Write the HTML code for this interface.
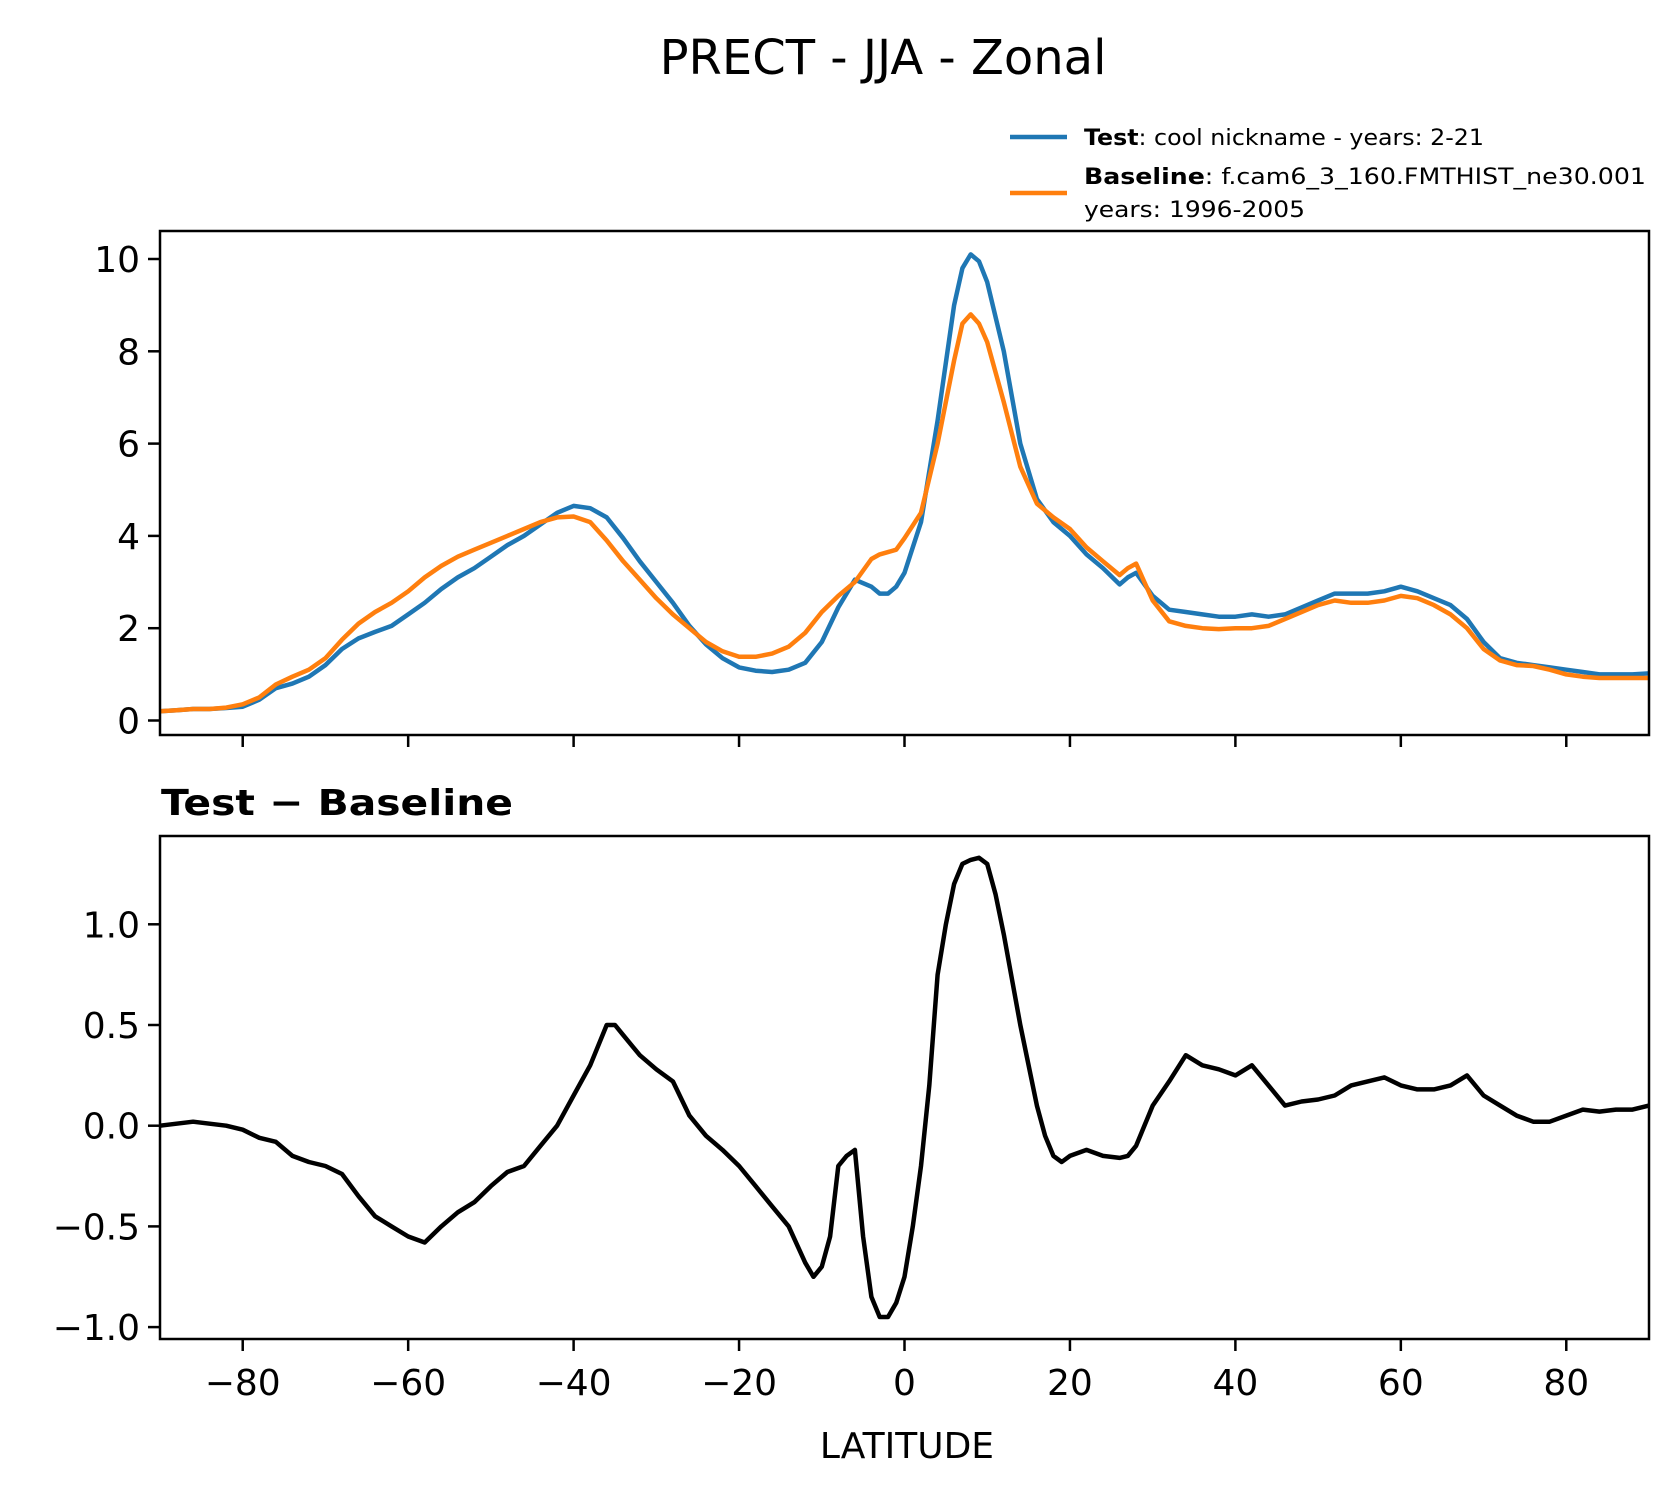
<!DOCTYPE html>
<html><head><meta charset="utf-8"><style>
body{margin:0;background:#fff}
svg{display:block;font-family:"DejaVu Sans","Liberation Sans",sans-serif}
</style></head><body>
<svg id="fig" width="1678" height="1496" viewBox="0 0 1678 1496" xmlns="http://www.w3.org/2000/svg">
<rect width="1678" height="1496" fill="#fff"/>
<text x="883" y="74" font-size="48" text-anchor="middle">PRECT - JJA - Zonal</text>
<g>
<line x1="1010" y1="137" x2="1067" y2="137" stroke="#1f77b4" stroke-width="4.5"/>
<text x="1084" y="145" font-size="22" textLength="400" lengthAdjust="spacingAndGlyphs"><tspan font-weight="bold">Test</tspan>: cool nickname - years: 2-21</text>
<line x1="1010" y1="193" x2="1067" y2="193" stroke="#ff7f0e" stroke-width="4.5"/>
<text x="1084" y="184" font-size="22" textLength="562" lengthAdjust="spacingAndGlyphs"><tspan font-weight="bold">Baseline</tspan>: f.cam6_3_160.FMTHIST_ne30.001</text>
<text x="1084" y="217" font-size="22" textLength="221" lengthAdjust="spacingAndGlyphs">years: 1996-2005</text>
</g>
<text x="161" y="815" font-size="36" font-weight="bold" textLength="352" lengthAdjust="spacingAndGlyphs">Test − Baseline</text>
<text x="907" y="1458" font-size="36" text-anchor="middle">LATITUDE</text>
<g id="top"></g>
<g id="bot"></g>
</svg>
<script>
const latGrid=[-90,-88,-86,-84,-82,-80,-78,-76,-74,-72,-70,-68,-66,-64,-62,-60,-58,-56,-54,-52,-50,-48,-46,-44,-42,-40,-38,-36,-34,-32,-30,-28,-26,-24,-22,-20,-18,-16,-14,-12,-10,-8,-6,-4,-3,-2,-1,0,2,4,6,7,8,9,10,12,14,16,18,20,22,24,26,27,28,30,32,34,36,38,40,42,44,46,48,50,52,54,56,58,60,62,64,66,68,70,72,74,76,78,80,82,84,86,88,90];
const testVals=[0.2,0.22,0.25,0.25,0.27,0.3,0.45,0.7,0.8,0.95,1.2,1.55,1.78,1.92,2.05,2.3,2.55,2.85,3.1,3.3,3.55,3.8,4.0,4.25,4.5,4.65,4.6,4.4,3.95,3.45,3.0,2.55,2.05,1.65,1.35,1.15,1.08,1.05,1.1,1.25,1.7,2.45,3.05,2.9,2.75,2.75,2.9,3.2,4.3,6.5,9.0,9.8,10.1,9.95,9.5,8.0,6.0,4.8,4.3,4.0,3.6,3.3,2.95,3.1,3.2,2.7,2.4,2.35,2.3,2.25,2.25,2.3,2.25,2.3,2.45,2.6,2.75,2.75,2.75,2.8,2.9,2.8,2.65,2.5,2.2,1.7,1.35,1.25,1.2,1.15,1.1,1.05,1.0,1.0,1.0,1.02];
const baseVals=[0.2,0.22,0.25,0.25,0.28,0.35,0.5,0.78,0.95,1.1,1.35,1.75,2.1,2.35,2.55,2.8,3.1,3.35,3.55,3.7,3.85,4.0,4.15,4.3,4.4,4.42,4.3,3.9,3.45,3.05,2.65,2.3,2.0,1.7,1.5,1.38,1.38,1.45,1.6,1.9,2.35,2.7,3.0,3.5,3.6,3.65,3.7,3.95,4.5,6.0,7.8,8.6,8.8,8.6,8.2,6.9,5.5,4.7,4.4,4.15,3.75,3.45,3.15,3.3,3.4,2.6,2.15,2.05,2.0,1.98,2.0,2.0,2.05,2.2,2.35,2.5,2.6,2.55,2.55,2.6,2.7,2.65,2.5,2.3,2.0,1.55,1.3,1.2,1.18,1.1,1.0,0.95,0.92,0.92,0.92,0.92];
const diffLat=[-90,-88,-86,-84,-82,-80,-78,-76,-74,-72,-70,-68,-66,-64,-62,-60,-58,-56,-54,-52,-50,-48,-46,-44,-42,-40,-38,-36,-35,-34,-32,-30,-28,-26,-24,-22,-20,-18,-16,-14,-12,-11,-10,-9,-8,-7,-6,-5,-4,-3,-2,-1,0,1,2,3,4,5,6,7,8,9,10,11,12,14,16,17,18,19,20,22,24,26,27,28,30,32,34,36,38,40,42,44,46,48,50,52,54,56,58,60,62,64,66,68,70,72,74,76,78,80,82,84,86,88,90];
const diffVals=[0.0,0.01,0.02,0.01,0.0,-0.02,-0.06,-0.08,-0.15,-0.18,-0.2,-0.24,-0.35,-0.45,-0.5,-0.55,-0.58,-0.5,-0.43,-0.38,-0.3,-0.23,-0.2,-0.1,0.0,0.15,0.3,0.5,0.5,0.45,0.35,0.28,0.22,0.05,-0.05,-0.12,-0.2,-0.3,-0.4,-0.5,-0.68,-0.75,-0.7,-0.55,-0.2,-0.15,-0.12,-0.55,-0.85,-0.95,-0.95,-0.88,-0.75,-0.5,-0.2,0.2,0.75,1.0,1.2,1.3,1.32,1.33,1.3,1.15,0.95,0.5,0.1,-0.05,-0.15,-0.18,-0.15,-0.12,-0.15,-0.16,-0.15,-0.1,0.1,0.22,0.35,0.3,0.28,0.25,0.3,0.2,0.1,0.12,0.13,0.15,0.2,0.22,0.24,0.2,0.18,0.18,0.2,0.25,0.15,0.1,0.05,0.02,0.02,0.05,0.08,0.07,0.08,0.08,0.1];
const xTicks=[-80,-60,-40,-20,0,20,40,60,80];
const xTickLabels=["\u221280","\u221260","\u221240","\u221220","0","20","40","60","80"];
const topTicks=[0,2,4,6,8,10];
const topTickLabels=["0","2","4","6","8","10"];
const botTicks=[-1.0,-0.5,0.0,0.5,1.0];
const botTickLabels=["\u22121.0","\u22120.5","0.0","0.5","1.0"];

const NS="http://www.w3.org/2000/svg";
const X0=160,X1=1649;
const xs=v=>X0+(v+90)/180*(X1-X0);
const yTop=v=>720.5-v*46.15;
const yBot=v=>1125.7-v*201.4;
function mk(p,t,a){const e=document.createElementNS(NS,t);for(const k in a)e.setAttribute(k,a[k]);p.appendChild(e);return e;}
function panel(g,top,bot,ys,ticks,labels,showX,prefix){
  for(let i=0;i<ticks.length;i++){
    const y=ys(ticks[i]);
    const t=mk(g,'line',{x1:X0-12,x2:X0,y1:y,y2:y,stroke:'#000','stroke-width':2.5});
    
    
    const l=mk(g,'text',{x:X0-20,y:y+13,'font-size':36,'text-anchor':'end'});
    l.textContent=labels[i];
    
    
  }
  for(let i=0;i<xTicks.length;i++){
    const x=xs(xTicks[i]);
    const t=mk(g,'line',{x1:x,x2:x,y1:bot,y2:bot+12,stroke:'#000','stroke-width':2.5});
    
    
    if(showX){
      const l=mk(g,'text',{x:x,y:bot+56,'font-size':36,'text-anchor':'middle'});
      l.textContent=xTickLabels[i];
      
      
    }
  }
}
function series(g,lats,vals,ys,color,name){
  const d=lats.map((la,i)=>(i?'L':'M')+xs(la).toFixed(1)+' '+ys(vals[i]).toFixed(1)).join(' ');
  const p=mk(g,'path',{d:d,fill:'none',stroke:color,'stroke-width':4.5,'stroke-linejoin':'round'});
  
  
}
function frame(g,top,bot,name){
  const r=mk(g,'rect',{x:X0,y:top,width:X1-X0,height:bot-top,fill:'none',stroke:'#000','stroke-width':2.5});
  
  
}
const gt=document.getElementById('top'),gb=document.getElementById('bot');
panel(gt,231,735,yTop,topTicks,topTickLabels,false,'top');
series(gt,latGrid,testVals,yTop,'#1f77b4','test-line');
series(gt,latGrid,baseVals,yTop,'#ff7f0e','baseline-line');
frame(gt,231,735,'top-axes-frame');
panel(gb,836,1339,yBot,botTicks,botTickLabels,true,'bottom');
series(gb,diffLat,diffVals,yBot,'#000','difference-line');
frame(gb,836,1339,'bottom-axes-frame');
</script>
</body></html>
